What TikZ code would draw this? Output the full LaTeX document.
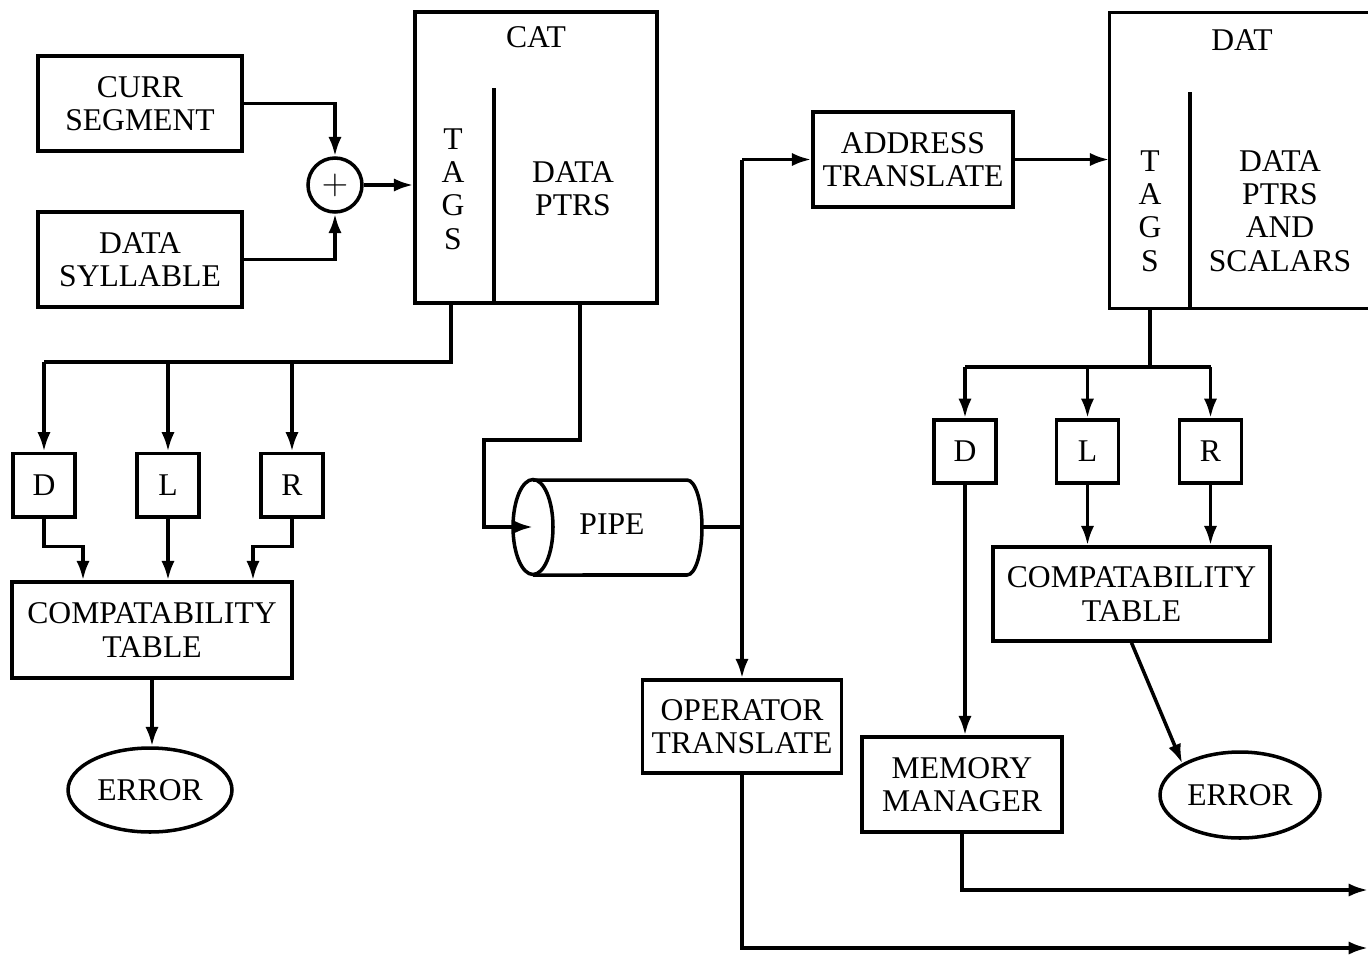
\documentclass[tikz,border=0pt]{standalone}
\usepackage{fontspec}
\setmainfont{Liberation Serif}
\usetikzlibrary{arrows.meta,shapes.geometric}

\begin{document}
\begin{tikzpicture}[x=0.02cm,y=-0.02cm,line width=2pt,
  every node/.style={font=\fontsize{18}{19}\selectfont,align=center,inner sep=0pt},
  box/.style={draw,rectangle},
  wide/.style={box,minimum width=4cm,minimum height=1.9cm},
  lettbox/.style={box,minimum width=1.24cm,minimum height=1.27cm},
  arr/.style={-{Latex[length=11pt,width=7.5pt]}}]
\useasboundingbox (0,0) rectangle (1368,954);

% left half
\node (curr) [wide,minimum width=4.08cm] at (140,103.5) {CURR\\SEGMENT};
\node (syl) [wide,minimum width=4.08cm] at (140,259.5) {DATA\\SYLLABLE};
\node (sum) [draw,circle,minimum size=1.08cm,font=\fontsize{20}{20}\selectfont] at (335,185) {$+$};

\node (cat) [box,minimum width=4.84cm,minimum height=5.82cm] at (536,157.5) {};
\node (catname) at (536,37) {CAT};
\node (cattags) at (453,189) {T\\A\\G\\S};
\node (catdata) at (573,189) {DATA\\PTRS};
\draw (494,88) -- (494,303);

\draw[arr] (curr.east) -| (sum.north);
\draw[arr] (syl.east) -| (sum.south);
\draw[arr] (sum.east) -- (sum.east -| cat.west);

\node (dl) [lettbox] at (44,485) {D};
\node (ll) [lettbox] at (168,485) {L};
\node (rl) [lettbox] at (292,485) {R};
\node (ctl) [box,minimum width=5.6cm,minimum height=1.92cm] at (152,630) {COMPATABILITY\\TABLE};
\node (errl) [draw,ellipse,minimum width=3.28cm,minimum height=1.68cm] at (150,790) {ERROR};

\coordinate (lbus) at (451,362);
\draw (lbus |- cat.south) -- (lbus) -- (lbus -| dl);
\foreach \b in {dl,ll,rl}
  \draw[arr] (lbus -| \b) -- (\b.north);
\draw[arr] (dl.south) -- ++(0,28) -| ([xshift=-1.38cm]ctl.north);
\draw[arr] (ll.south) -- (ll.south |- ctl.north);
\draw[arr] (rl.south) -- ++(0,28) -| ([xshift=2.02cm]ctl.north);
\draw[arr] (ctl.south) -- (ctl.south |- errl.north);

% pipe
\coordinate (catout) at (580,303);
\coordinate (pipein) at (533,527);
\coordinate (pipeout) at (702,527);
\draw (533,480) -- (687,480) arc[start angle=90,end angle=-90,x radius=0.3cm,y radius=0.95cm] -- (533,575);
\draw (pipein) ellipse [x radius=0.4cm,y radius=0.95cm];
\node (pipe) at (612,524) {PIPE};
\draw[arr] (catout) |- ++(-96,137) |- (pipein);

% right half
\node (addr) [wide] at (913,159.5) {ADDRESS\\TRANSLATE};
\node (optr) [wide,minimum width=3.98cm,minimum height=1.86cm] at (742,726.5) {OPERATOR\\TRANSLATE};
\draw (pipeout) -- (pipeout -| optr.north);
\draw[arr] (optr.north |- addr.west) -- (optr.north);
\draw[arr] (optr.north |- addr.west) -- (addr.west);

\node (dat) [minimum width=5.14cm,minimum height=5.86cm] at (1239.5,160.5) {};
\draw (dat.north east) -- (dat.north west) -- (dat.south west) -- (dat.south east);
\node (datname) at (1242,40) {DAT};
\node (dattags) at (1150,211) {T\\A\\G\\S};
\node (datdata) at (1280,211) {DATA\\PTRS\\AND\\SCALARS};
\draw (1190,92) -- (1190,307);
\draw[arr] (addr.east) -- (addr.east -| dat.west);

\node (dd) [lettbox] at (965,451.5) {D};
\node (lr) [lettbox] at (1087.5,451.5) {L};
\node (rr) [lettbox] at (1210.5,451.5) {R};
\node (ctr) [box,minimum width=5.54cm,minimum height=1.88cm] at (1131.5,594) {COMPATABILITY\\TABLE};
\node (errr) [draw,ellipse,minimum width=3.2cm,minimum height=1.72cm] at (1240,795) {ERROR};
\node (mem) [wide] at (962,784.5) {MEMORY\\MANAGER};

\coordinate (rbus) at (1150,367);
\draw (dattags |- dat.south) -- (rbus);
\draw (rbus -| dd) -- (rbus -| rr);
\foreach \b in {dd,lr,rr}
  \draw[arr] (rbus -| \b) -- (\b.north);
\draw[arr] (lr.south) -- (lr.south |- ctr.north);
\draw[arr] (rr.south) -- (rr.south |- ctr.north);
\draw[arr] (ctr.south) -- (errr.north west);
\draw[arr] (dd.south) -- (dd.south |- mem.north);

\coordinate (out1) at (1368,890);
\coordinate (out2) at (1368,948);
\draw[arr] (mem.south) |- (out1);
\draw[arr] (optr.south) |- (out2);
\end{tikzpicture}
\end{document}
